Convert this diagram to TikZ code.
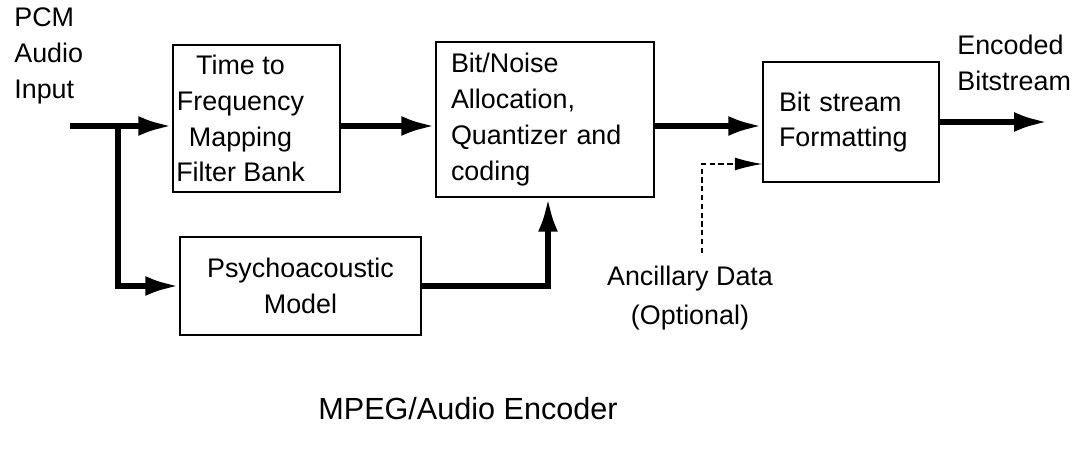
\documentclass[tikz,border=0pt]{standalone}
\usepackage{fontspec}
\setmainfont{Liberation Sans}
\usetikzlibrary{arrows.meta,positioning}

\begin{document}
\begin{tikzpicture}[
  blk/.style={draw, line width=0.85pt, inner sep=0pt, font=\fontsize{15.3}{20.4}\selectfont},
  txt/.style={inner sep=0pt, font=\fontsize{15.3}{20.4}\selectfont},
  sig/.style={line width=3.3pt, arrows={-Latex[length=0.68cm, width=0.4cm]}},
  opt/.style={line width=0.7pt, dash pattern=on 3pt off 2pt, arrows={-Latex[length=0.55cm, width=0.26cm]}}
]
\useasboundingbox (0,0) rectangle (21.5,-9.16);

% =====================
% BLOCCHI
% =====================
\node[blk, minimum width=3.34cm, minimum height=2.94cm,
  label={[txt, align=center, xshift=-0.32cm]center:Time to\\Frequency\\Mapping\\Filter Bank}]
  (tf) at (5.13,-2.37) {};
\node[blk, minimum width=4.82cm, minimum height=1.96cm, align=center]
  (psy) at (6.01,-5.72) {Psychoacoustic\\Model};
\node[blk, text width=3.76cm, inner xsep=0.3cm, minimum height=3.1cm, align=left]
  (alloc) at (10.9,-2.39) {Bit/Noise\\Allocation,\\Quantizer and\\coding};
\node[blk, text width=2.88cm, inner xsep=0.32cm, minimum height=2.4cm, align=left]
  (fmt) at (17.02,-2.44) {Bit stream\\Formatting};

% =====================
% ETICHETTE
% =====================
\node[txt, align=left, anchor=west] (pcm) at (0.28,-1.12) {PCM\\Audio\\Input};
\node[txt, align=left, anchor=west] (enc) at (19.14,-1.25) {Encoded\\Bitstream};
\node[txt, align=center, font=\fontsize{15.3}{22.5}\selectfont] (ancl) at (13.8,-5.96) {Ancillary Data\\(Optional)};
\node[txt, font=\fontsize{17.4}{21}\selectfont] (title) at (9.36,-8.18) {MPEG/Audio Encoder};

% =====================
% PUNTI LIBERI
% =====================
\coordinate (in) at (1.4,-2.52);
\coordinate (split) at (2.36,-2.52);
\coordinate (anc) at (14.04,-5.06);
\coordinate (out) at (20.96,-2.5);

% =====================
% FRECCE
% =====================
\draw[sig] (in) -- (in -| tf.west);
\draw[sig] (split) |- (psy.west);
\draw[sig] (tf.east |- in) -- (in -| alloc.west);
\draw[sig] (alloc.east |- in) -- (in -| fmt.west);
\draw[sig] (psy.east) -| ([xshift=0.06cm]alloc.south);
\draw[opt] (anc) |- ([yshift=-0.84cm]fmt.west);
\draw[sig] (fmt.east) -- (fmt.east -| out);

\end{tikzpicture}
\end{document}
